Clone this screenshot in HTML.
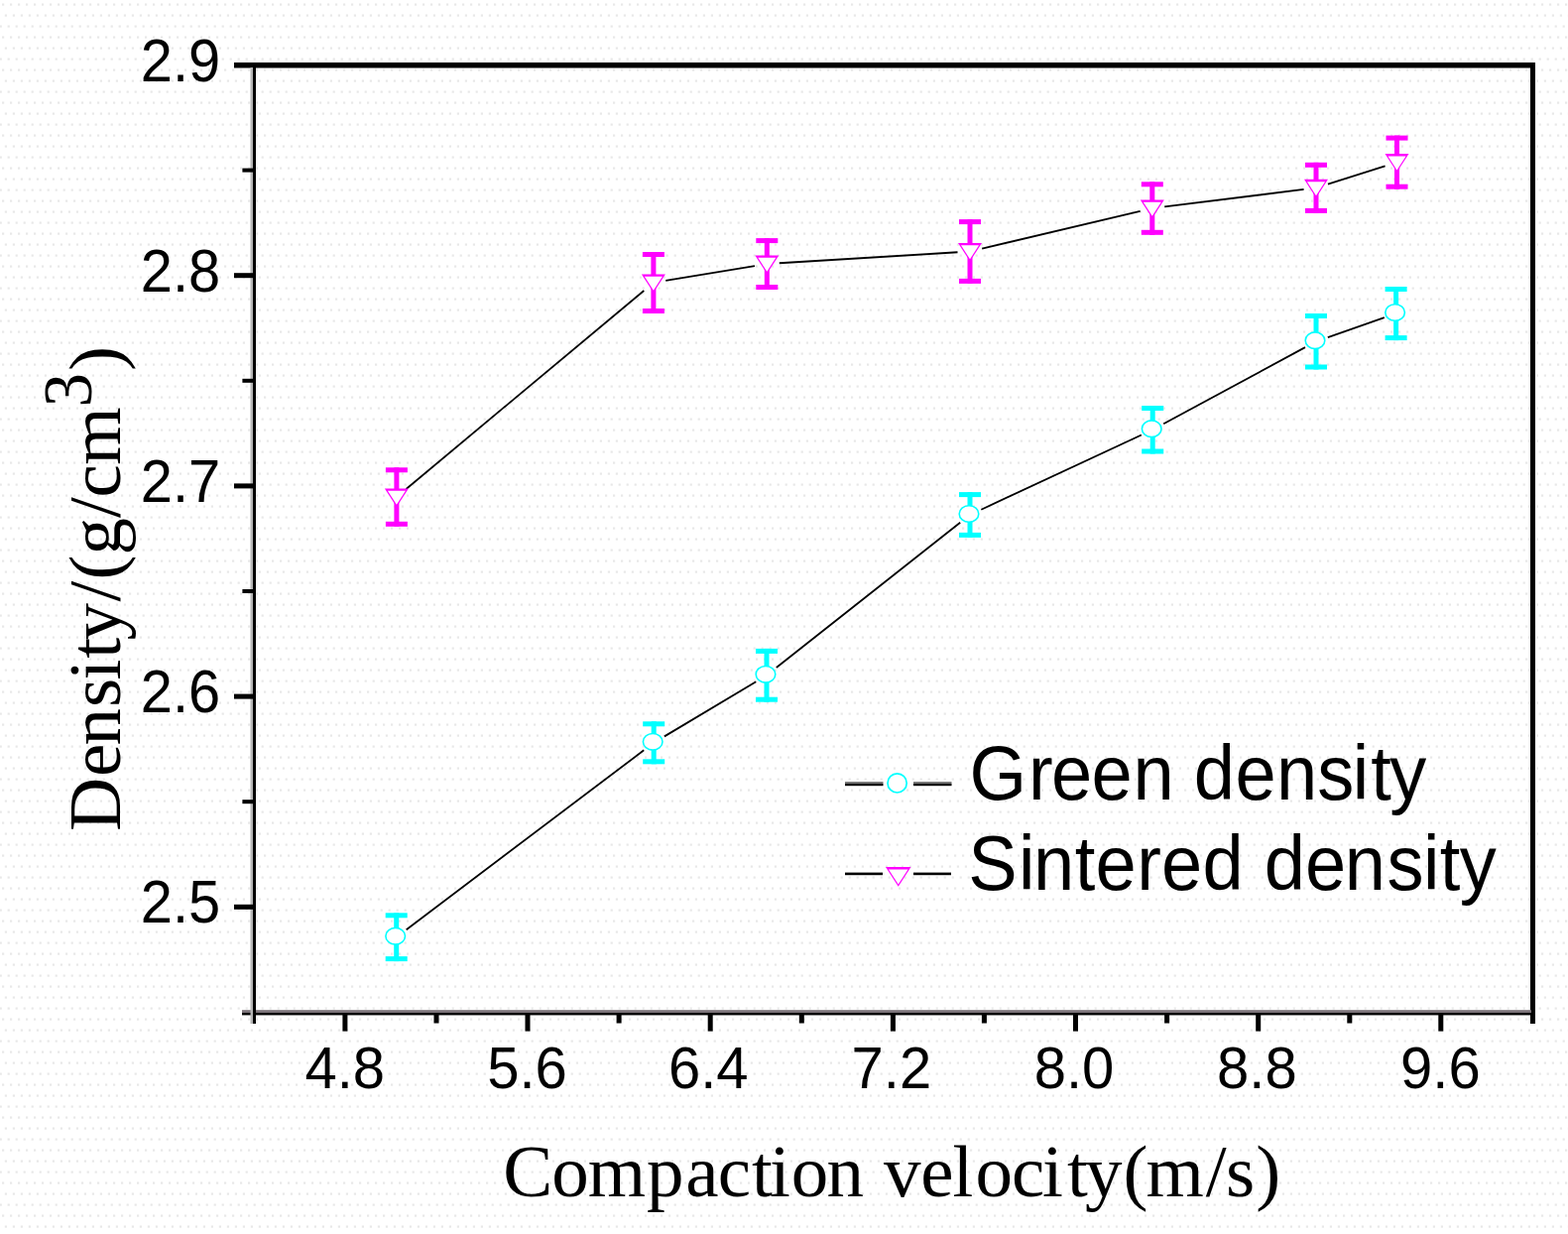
<!DOCTYPE html><html><head><meta charset="utf-8"><title>Density vs compaction velocity</title>
<style>html,body{margin:0;padding:0;background:#fff;}body{width:1581px;height:1244px;overflow:hidden;}svg{display:block;}.sans{font-family:"Liberation Sans",Arial,sans-serif;}.serif{font-family:"Liberation Serif","Times New Roman",serif;}.thin1{stroke:#fff;stroke-width:0.5px;}.thin15{stroke:#fff;stroke-width:1.0px;}.thin08{stroke:#fff;stroke-width:0.8px;}</style>
</head><body>
<svg width="1581" height="1244" viewBox="0 0 1581 1244">
<defs><pattern id="dots" x="0" y="0" width="8" height="33" patternUnits="userSpaceOnUse"><rect x="2" y="3.5" width="2.2" height="2.2" fill="#e8e8e8"/><rect x="4.8" y="14.5" width="2.2" height="2.2" fill="#e8e8e8"/><rect x="7.6" y="25.5" width="0.4" height="2.2" fill="#e8e8e8"/><rect x="0" y="25.5" width="1.8" height="2.2" fill="#e8e8e8"/></pattern></defs>
<rect x="0" y="0" width="1581" height="1244" fill="#fff"/>
<rect x="0" y="0" width="1581" height="1244" fill="url(#dots)"/>
<rect x="236" y="63" width="1312" height="5.5" fill="#000"/>
<rect x="1543" y="63" width="5" height="969" fill="#000"/>
<rect x="244" y="1018.2" width="1300" height="2.9" fill="#7a7278"/>
<rect x="244" y="1021" width="1300" height="2.4" fill="#000"/>
<rect x="252.5" y="68" width="2.5" height="964" fill="#b4b4b4"/>
<rect x="255" y="63" width="3" height="969" fill="#000"/>
<rect x="236" y="911.8" width="20" height="5" fill="#000"/>
<rect x="236" y="699.6" width="20" height="5" fill="#000"/>
<rect x="236" y="487.4" width="20" height="5" fill="#000"/>
<rect x="236" y="275.2" width="20" height="5" fill="#000"/>
<rect x="236" y="63.0" width="20" height="5" fill="#000"/>
<rect x="244.4" y="806.2" width="12" height="4" fill="#000"/>
<rect x="244.4" y="594.0" width="12" height="4" fill="#000"/>
<rect x="244.4" y="381.8" width="12" height="4" fill="#000"/>
<rect x="244.4" y="169.6" width="12" height="4" fill="#000"/>
<rect x="345.4" y="1021" width="5" height="18.6" fill="#000"/>
<rect x="529.5" y="1021" width="5" height="18.6" fill="#000"/>
<rect x="713.7" y="1021" width="5" height="18.6" fill="#000"/>
<rect x="897.9" y="1021" width="5" height="18.6" fill="#000"/>
<rect x="1082.0" y="1021" width="5" height="18.6" fill="#000"/>
<rect x="1266.2" y="1021" width="5" height="18.6" fill="#000"/>
<rect x="1450.3" y="1021" width="5" height="18.6" fill="#000"/>
<rect x="437.5" y="1021" width="5" height="10.5" fill="#000"/>
<rect x="621.6" y="1021" width="5" height="10.5" fill="#000"/>
<rect x="805.8" y="1021" width="5" height="10.5" fill="#000"/>
<rect x="989.9" y="1021" width="5" height="10.5" fill="#000"/>
<rect x="1174.1" y="1021" width="5" height="10.5" fill="#000"/>
<rect x="1358.3" y="1021" width="5" height="10.5" fill="#000"/>
<text class="sans" transform="translate(222.11 930.3) scale(1 1.05)" font-size="57.8" text-anchor="end" fill="#000">2.5</text>
<text class="sans" transform="translate(222.11 718.1) scale(1 1.05)" font-size="57.8" text-anchor="end" fill="#000">2.6</text>
<text class="sans" transform="translate(222.11 505.9) scale(1 1.05)" font-size="57.8" text-anchor="end" fill="#000">2.7</text>
<text class="sans" transform="translate(222.11 293.7) scale(1 1.05)" font-size="57.8" text-anchor="end" fill="#000">2.8</text>
<text class="sans" transform="translate(222.11 81.5) scale(1 1.05)" font-size="57.8" text-anchor="end" fill="#000">2.9</text>
<text class="sans" transform="translate(347.75 1097) scale(1 1.03)" font-size="58" text-anchor="middle" fill="#000">4.8</text>
<text class="sans" transform="translate(531.50 1097) scale(1 1.03)" font-size="58" text-anchor="middle" fill="#000">5.6</text>
<text class="sans" transform="translate(714.30 1097) scale(1 1.03)" font-size="58" text-anchor="middle" fill="#000">6.4</text>
<text class="sans" transform="translate(898.90 1097) scale(1 1.03)" font-size="58" text-anchor="middle" fill="#000">7.2</text>
<text class="sans" transform="translate(1083.00 1097) scale(1 1.03)" font-size="58" text-anchor="middle" fill="#000">8.0</text>
<text class="sans" transform="translate(1267.40 1097) scale(1 1.03)" font-size="58" text-anchor="middle" fill="#000">8.8</text>
<text class="sans" transform="translate(1452.40 1097) scale(1 1.03)" font-size="58" text-anchor="middle" fill="#000">9.6</text>
<text class="serif" x="507.2 556.2 592.7 652.0 691.2 723.7 757.9 776.0 797.8 833.5 871.0 891.0 928.3 960.6 983.6 1019.9 1051.1 1076.0 1094.1 1132.5 1155.5 1215.8 1236.1 1266.2" y="1206.4" font-size="75" fill="#000">Compaction velocity(m/s)</text>
<text class="serif" transform="translate(121 837) rotate(-90)" x="-1.0 54.0 85.6 123.9 151.4 173.2 191.4 230.6 252.5 277.5 315.1 335.5 368.2" y="0" font-size="75" fill="#000">Density/(g/cm<tspan x="426.4" y="-29" font-size="69">3</tspan><tspan x="462.9" y="0">)</tspan></text>
<path d="M409.50 492.99L649.30 293.01M671.23 282.95L760.97 268.05M785.78 265.24L965.52 254.26M990.16 250.62L1149.64 212.88M1174.20 208.45L1314.60 190.95M1338.92 185.63L1396.58 167.37" fill="none" stroke="#000" stroke-width="1.8"/>
<path d="M409.68 937.17L649.22 756.33M669.93 742.39L762.27 687.21M782.81 673.06L968.19 526.74M989.33 513.72L1150.87 438.48M1173.20 427.26L1316.00 350.14M1338.80 340.07L1395.80 320.13" fill="none" stroke="#000" stroke-width="1.8"/>
<rect x="397.4" y="471.3" width="5" height="59.5" fill="#ff00ff"/><rect x="388.9" y="471.3" width="22" height="5" fill="#ff00ff"/><rect x="388.9" y="525.8" width="22" height="5" fill="#ff00ff"/>
<rect x="656.4" y="254.0" width="5" height="62.0" fill="#ff00ff"/><rect x="647.9" y="254.0" width="22" height="5" fill="#ff00ff"/><rect x="647.9" y="311.0" width="22" height="5" fill="#ff00ff"/>
<rect x="770.8" y="240.1" width="5" height="51.9" fill="#ff00ff"/><rect x="762.3" y="240.1" width="22" height="5" fill="#ff00ff"/><rect x="762.3" y="287.0" width="22" height="5" fill="#ff00ff"/>
<rect x="975.5" y="221.1" width="5" height="64.8" fill="#ff00ff"/><rect x="967.0" y="221.1" width="22" height="5" fill="#ff00ff"/><rect x="967.0" y="280.9" width="22" height="5" fill="#ff00ff"/>
<rect x="1159.3" y="183.3" width="5" height="53.5" fill="#ff00ff"/><rect x="1150.8" y="183.3" width="22" height="5" fill="#ff00ff"/><rect x="1150.8" y="231.8" width="22" height="5" fill="#ff00ff"/>
<rect x="1324.5" y="163.8" width="5" height="51.1" fill="#ff00ff"/><rect x="1316.0" y="163.8" width="22" height="5" fill="#ff00ff"/><rect x="1316.0" y="209.9" width="22" height="5" fill="#ff00ff"/>
<rect x="1406.0" y="136.6" width="5" height="54.1" fill="#ff00ff"/><rect x="1397.5" y="136.6" width="22" height="5" fill="#ff00ff"/><rect x="1397.5" y="185.7" width="22" height="5" fill="#ff00ff"/>
<rect x="397.2" y="920.3" width="5" height="48.8" fill="#00ffff"/><rect x="388.7" y="920.3" width="22" height="5" fill="#00ffff"/><rect x="388.7" y="964.1" width="22" height="5" fill="#00ffff"/>
<rect x="656.7" y="727.3" width="5" height="43.0" fill="#00ffff"/><rect x="648.2" y="727.3" width="22" height="5" fill="#00ffff"/><rect x="648.2" y="765.3" width="22" height="5" fill="#00ffff"/>
<rect x="770.5" y="653.9" width="5" height="53.8" fill="#00ffff"/><rect x="762.0" y="653.9" width="22" height="5" fill="#00ffff"/><rect x="762.0" y="702.7" width="22" height="5" fill="#00ffff"/>
<rect x="975.5" y="496.1" width="5" height="45.8" fill="#00ffff"/><rect x="967.0" y="496.1" width="22" height="5" fill="#00ffff"/><rect x="967.0" y="536.9" width="22" height="5" fill="#00ffff"/>
<rect x="1159.7" y="409.0" width="5" height="48.5" fill="#00ffff"/><rect x="1151.2" y="409.0" width="22" height="5" fill="#00ffff"/><rect x="1151.2" y="452.5" width="22" height="5" fill="#00ffff"/>
<rect x="1324.5" y="316.0" width="5" height="56.5" fill="#00ffff"/><rect x="1316.0" y="316.0" width="22" height="5" fill="#00ffff"/><rect x="1316.0" y="367.5" width="22" height="5" fill="#00ffff"/>
<rect x="1405.1" y="289.0" width="5" height="54.1" fill="#00ffff"/><rect x="1396.6" y="289.0" width="22" height="5" fill="#00ffff"/><rect x="1396.6" y="338.1" width="22" height="5" fill="#00ffff"/>
<polygon points="387.90,492.40 411.90,492.40 399.90,511.00" fill="#ff00ff"/><polygon points="390.88,494.80 408.92,494.80 399.90,508.79" fill="#fff"/>
<polygon points="646.90,276.40 670.90,276.40 658.90,295.00" fill="#ff00ff"/><polygon points="649.88,278.80 667.92,278.80 658.90,292.79" fill="#fff"/>
<polygon points="761.30,257.40 785.30,257.40 773.30,276.00" fill="#ff00ff"/><polygon points="764.28,259.80 782.32,259.80 773.30,273.79" fill="#fff"/>
<polygon points="966.00,244.90 990.00,244.90 978.00,263.50" fill="#ff00ff"/><polygon points="968.98,247.30 987.02,247.30 978.00,261.29" fill="#fff"/>
<polygon points="1149.80,201.40 1173.80,201.40 1161.80,220.00" fill="#ff00ff"/><polygon points="1152.78,203.80 1170.82,203.80 1161.80,217.79" fill="#fff"/>
<polygon points="1315.00,180.80 1339.00,180.80 1327.00,199.40" fill="#ff00ff"/><polygon points="1317.98,183.20 1336.02,183.20 1327.00,197.19" fill="#fff"/>
<polygon points="1396.50,155.00 1420.50,155.00 1408.50,173.60" fill="#ff00ff"/><polygon points="1399.48,157.40 1417.52,157.40 1408.50,171.39" fill="#fff"/>
<ellipse cx="398.7" cy="943.7" rx="9.8" ry="8.3" fill="#fff" stroke="#00ffff" stroke-width="1.6"/>
<ellipse cx="658.2" cy="747.8" rx="9.8" ry="8.3" fill="#fff" stroke="#00ffff" stroke-width="1.6"/>
<ellipse cx="772.0" cy="679.8" rx="9.8" ry="8.3" fill="#fff" stroke="#00ffff" stroke-width="1.6"/>
<ellipse cx="977.0" cy="518.0" rx="9.8" ry="8.3" fill="#fff" stroke="#00ffff" stroke-width="1.6"/>
<ellipse cx="1161.2" cy="432.2" rx="9.8" ry="8.3" fill="#fff" stroke="#00ffff" stroke-width="1.6"/>
<ellipse cx="1326.0" cy="343.2" rx="9.8" ry="8.3" fill="#fff" stroke="#00ffff" stroke-width="1.6"/>
<ellipse cx="1406.6" cy="315.0" rx="9.8" ry="8.3" fill="#fff" stroke="#00ffff" stroke-width="1.6"/>
<rect x="852" y="788" width="38.5" height="2" fill="#777"/><rect x="852" y="790" width="38.5" height="2.2" fill="#000"/>
<rect x="921" y="788" width="38.5" height="2" fill="#777"/><rect x="921" y="790" width="38.5" height="2.2" fill="#000"/>
<circle cx="904.6" cy="789.4" r="9.6" fill="#fff" stroke="#00ffff" stroke-width="1.7"/>
<text class="sans" transform="translate(0 805.5) scale(1 1.047)" x="977.4 1037.0 1059.9 1100.5 1142.5 1183.7 1203.7 1245.5 1287.1 1328.3 1363.7 1382.2 1401.2" y="0" font-size="74.1" fill="#000">Green density</text>
<rect x="852" y="879.6" width="38" height="2.6" fill="#000"/>
<rect x="921" y="879.6" width="38" height="2.6" fill="#000"/>
<polygon points="893.00,874.10 918.50,874.10 905.75,893.70" fill="#ff00ff"/><polygon points="895.99,876.50 915.51,876.50 905.75,891.50" fill="#fff"/>
<text class="sans" transform="translate(0 896.5) scale(1 1.047)" x="976.3 1026.9 1041.9 1083.8 1104.4 1146.2 1170.9 1212.4 1253.6 1274.7 1316.0 1355.7 1398.5 1435.0 1451.7 1471.7" y="0" font-size="74.1" fill="#000">Sintered density</text>
</svg></body></html>
